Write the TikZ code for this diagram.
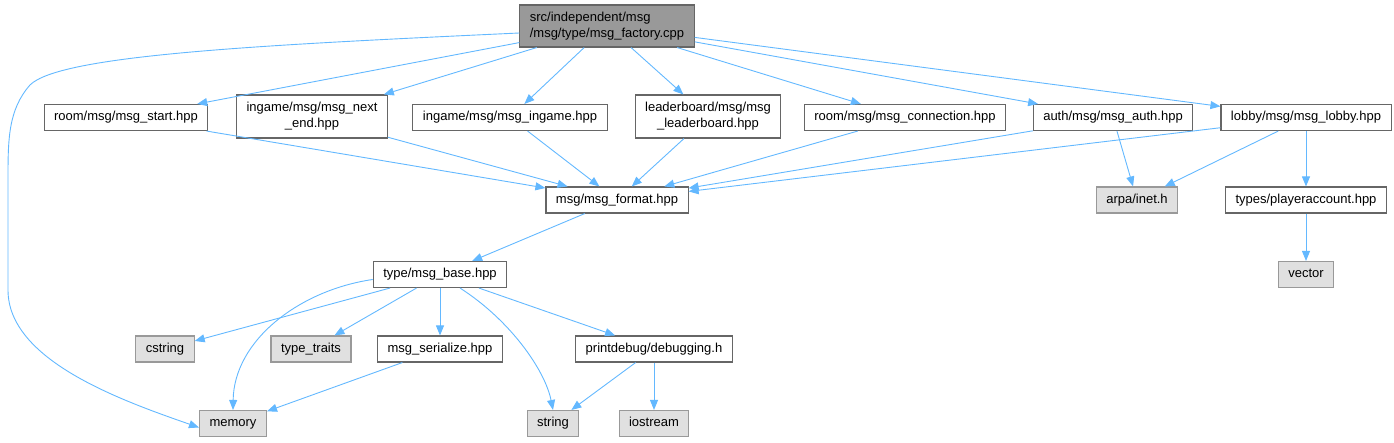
\documentclass[tikz,border=0pt]{standalone}
\usepackage{fontspec}
\setmainfont{Liberation Sans}
\usetikzlibrary{arrows.meta}
\definecolor{EdgeBlue}{HTML}{63B8FF}
\definecolor{BoxLine}{HTML}{666666}
\definecolor{SysLine}{HTML}{999999}
\definecolor{SysFill}{HTML}{E0E0E0}
\definecolor{RootFill}{HTML}{999999}

\begin{document}
\begin{tikzpicture}[
  x=1pt,y=-1pt,
  every node/.style={font=\fontsize{13}{16}\selectfont,inner xsep=10pt,inner ysep=0pt,minimum height=26pt,align=center,text height=9.5pt,text depth=3pt},
  file/.style={draw=BoxLine,fill=white,line width=1.1pt},
  sysfile/.style={draw=SysLine,fill=SysFill,line width=1.1pt},
  rootfile/.style={draw=BoxLine,fill=RootFill,line width=1.1pt,align=left,minimum height=42pt,text height=,text depth=},
  twoline/.style={file,minimum height=43pt,text height=,text depth=},
  dep/.style={-{Triangle[length=10pt,width=8pt]},draw=EdgeBlue,line width=0.9pt}
]
\useasboundingbox (0,0) rectangle (1394,443);
% top
\node[rootfile] (factory) at (607,26) {src/independent/msg\\/msg/type/msg\_factory.cpp};
% message headers
\node[file] (start) at (126,117.5) {room/msg/msg\_start.hpp};
\node[twoline] (nextend) at (312,116.5) {ingame/msg/msg\_next\\\_end.hpp};
\node[file] (ingame) at (510,117.5) {ingame/msg/msg\_ingame.hpp};
\node[twoline] (leader) at (708,116.5) {leaderboard/msg/msg\\\_leaderboard.hpp};
\node[file] (conn) at (905,117.5) {room/msg/msg\_connection.hpp};
\node[file] (auth) at (1113,117.5) {auth/msg/msg\_auth.hpp};
\node[file] (lobby) at (1306,117.5) {lobby/msg/msg\_lobby.hpp};
% second row
\node[file] (format) at (617,200) {msg/msg\_format.hpp};
\node[sysfile] (inet) at (1137,200) {arpa/inet.h};
\node[file] (player) at (1306,200) {types/playeraccount.hpp};
\node[file] (base) at (440,274.5) {type/msg\_base.hpp};
\node[sysfile] (vector) at (1306,274.5) {vector};
% base includes
\node[sysfile] (cstring) at (165,349) {cstring};
\node[sysfile] (traits) at (311,349) {type\_traits};
\node[file] (serialize) at (440,349) {msg\_serialize.hpp};
\node[file] (debug) at (654,349) {printdebug/debugging.h};
\node[sysfile] (memory) at (233,423.5) {memory};
\node[sysfile] (string) at (553,423.5) {string};
\node[sysfile] (iostream) at (654,423.5) {iostream};

\draw[dep] (factory.west) ++(0,7) .. controls (260,45) and (60,55) .. (30,85)
  .. controls (8,110) and (8,140) .. (8,180) -- (8,290)
  .. controls (8,360) and (120,400) .. ([yshift=-4pt]memory.west);
\foreach \n in {start,nextend,ingame,leader,conn,auth,lobby}
  \draw[dep] (factory) -- (\n);
\foreach \n in {start,nextend,ingame,leader,conn,auth,lobby}
  \draw[dep] (\n) -- (format);
\draw[dep] (auth) -- (inet);
\draw[dep] (lobby) -- (inet);
\draw[dep] (lobby) -- (player);
\draw[dep] (player) -- (vector);
\draw[dep] (format) -- (base);
\draw[dep] (base) -- (cstring);
\draw[dep] (base) -- (traits);
\draw[dep] (base) -- (serialize);
\draw[dep] (base) -- (debug);
\draw[dep] ([yshift=-5pt]base.west) .. controls (300,290) and (234,340) .. (memory.north);
\draw[dep] ([xshift=20pt]base.south) .. controls (510,320) and (545,370) .. (string.north);
\draw[dep] (serialize) -- (memory);
\draw[dep] (debug) -- (string);
\draw[dep] (debug) -- (iostream);
\end{tikzpicture}
\end{document}
